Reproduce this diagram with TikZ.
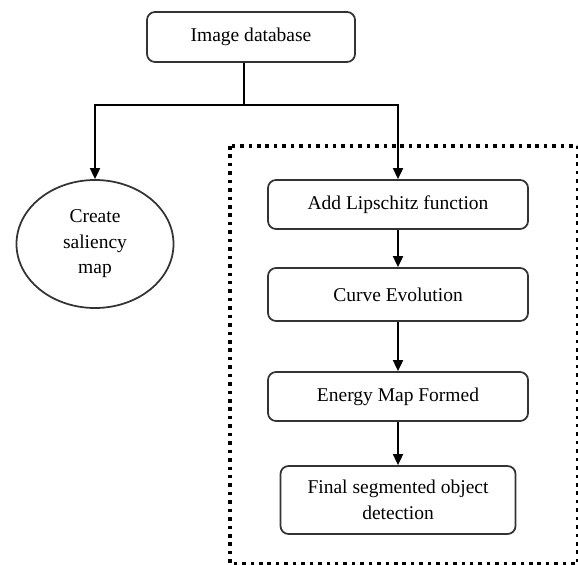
\documentclass[tikz,border=0pt]{standalone}
\usepackage{fontspec}
\setmainfont{Liberation Serif}
\usetikzlibrary{arrows.meta,shapes.geometric}
\tikzset{
  stepbox/.style={draw=black!80,line width=1pt,rounded corners=0.16cm,
    align=center,inner sep=0pt,font=\fontsize{11.1}{14.5}\selectfont},
  flow/.style={line width=1pt,-{Triangle[width=0.2cm,length=0.22cm]}}
}
\begin{document}
\begin{tikzpicture}
\useasboundingbox (0,0) rectangle (11.56,-11.30);
\draw[line width=2pt,dash pattern=on 2pt off 2.8pt] (4.60,-2.92) rectangle (11.56,-11.28);
\node[stepbox,minimum width=4.16cm,minimum height=1.0cm] (db) at (5.02,-0.74) {Image database};
\node[stepbox,ellipse,rounded corners=0pt,minimum width=3.14cm,minimum height=2.56cm] (sal) at (1.90,-4.88) {Create\\saliency\\map};
\node[stepbox,minimum width=5.2cm,minimum height=0.98cm] (lip) at (7.96,-4.09) {Add Lipschitz function};
\node[stepbox,minimum width=5.2cm,minimum height=1.06cm] (curve) at (7.96,-5.89) {Curve Evolution};
\node[stepbox,minimum width=5.2cm,minimum height=0.98cm] (energy) at (7.96,-7.93) {Energy Map Formed};
\node[stepbox,minimum width=4.7cm,minimum height=1.36cm] (final) at (7.96,-10.0) {Final segmented object\\detection};
% branch under the database
\coordinate (split) at (4.88,-2.10);
\draw[line width=1pt] (db.south -| split) -- (split);
\draw[flow] (split) -| (sal.north);
\draw[flow] (split) -| (lip.north);
\foreach \a/\b in {lip/curve,curve/energy,energy/final}
  \draw[flow] (\a) -- (\b);
\end{tikzpicture}
\end{document}
